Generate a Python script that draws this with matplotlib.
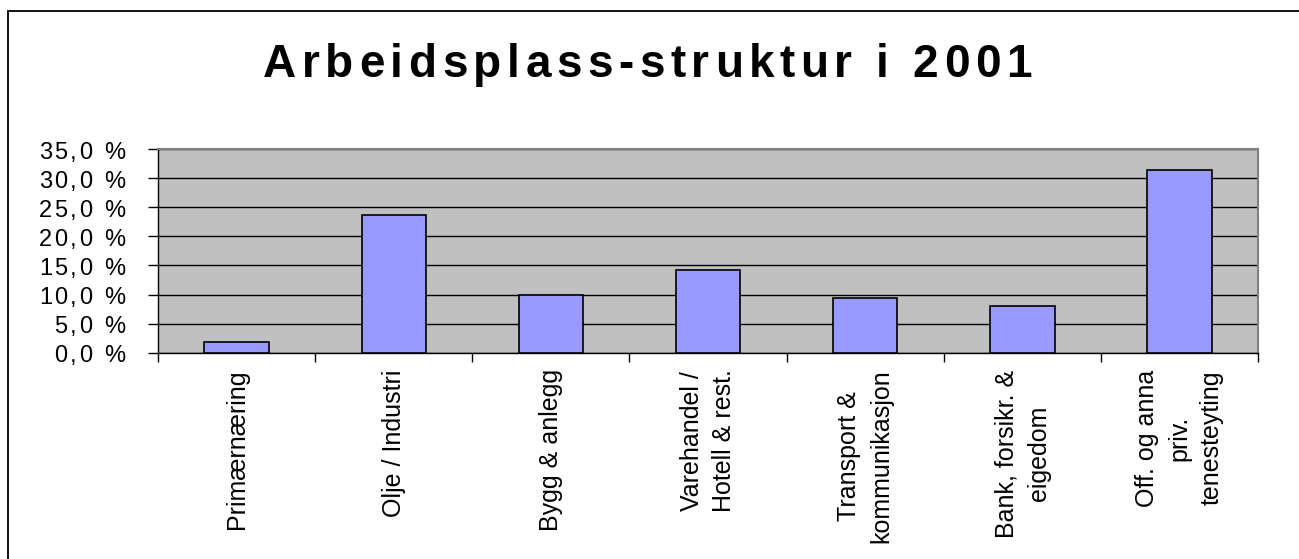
import matplotlib
matplotlib.use('Agg')
import matplotlib.pyplot as plt
from matplotlib.font_manager import FontProperties
from matplotlib.patches import Rectangle

# Data
categories = ['Primærnæring', 'Olje / Industri', 'Bygg & anlegg',
              'Varehandel /\nHotell & rest.', 'Transport &\nkommunikasjon',
              'Bank, forsikr. &\neigedom', 'Off. og anna\npriv.\ntenesteyting']
shares = [1.8, 23.7, 9.9, 14.2, 9.4, 8.0, 31.4]
y_ticks = [0, 5, 10, 15, 20, 25, 30, 35]
y_tick_labels = ['0,0 %', '5,0 %', '10,0 %', '15,0 %', '20,0 %', '25,0 %', '30,0 %', '35,0 %']
title = 'Arbeidsplass-struktur i 2001'

W, H = 1299, 559
fig = plt.figure(figsize=(W / 100, H / 100), dpi=100)
fig.patch.set_facecolor('white')

# outer frame (only left/top visible in the original)
fig.patches.append(Rectangle((8 / W, -0.1), 1.2, (H - 11) / H + 0.1, transform=fig.transFigure,
                             fill=False, edgecolor='black', linewidth=1.3, clip_on=False))

ax = fig.add_axes([158 / W, (H - 352.7) / H, 1100 / W, 203.7 / H])
ax.set_facecolor('#C0C0C0')

x = list(range(len(categories)))
ax.bar(x, shares, width=0.41, color='#9999FF', edgecolor='black', linewidth=1.2, zorder=3)

ax.set_xlim(-0.5, len(categories) - 0.5)
ax.set_ylim(0, 35)
ax.set_yticks(y_ticks)
ax.set_yticklabels([''] * len(y_ticks))
ax.yaxis.grid(True, color='black', linewidth=1.0, zorder=1)
ax.set_axisbelow(True)
ax.tick_params(axis='y', direction='out', length=7.5, width=1, color='black')

# category boundaries get the tick marks, the centres get the labels
ax.set_xticks([i - 0.5 for i in range(len(categories) + 1)])
ax.set_xticklabels([''] * (len(categories) + 1))
ax.tick_params(axis='x', which='major', direction='out', length=6.5, width=1, color='black')
ax.set_xticks(x, minor=True)
ax.set_xticklabels(categories, minor=True, rotation=90, fontsize=18, family='Liberation Sans',
                   multialignment='center', linespacing=1.45)
ax.tick_params(axis='x', which='minor', length=0, pad=12)

for s in ['top', 'right']:
    ax.spines[s].set_color('#808080')
    ax.spines[s].set_linewidth(1.5)
for s in ['left', 'bottom']:
    ax.spines[s].set_color('black')
    ax.spines[s].set_linewidth(1.0)

fig.canvas.draw()
r = fig.canvas.get_renderer()


def adv(c, fp):
    # advance width of one character in pixels
    w2 = r.get_text_width_height_descent('HH', fp, ismath=False)[0]
    w3 = r.get_text_width_height_descent('H' + c + 'H', fp, ismath=False)[0]
    return w3 - w2


def spaced_text(xp, yp, s, fp, sp=None, total=None, ha='left'):
    ws = [adv(c, fp) for c in s]
    if total is not None:
        sp = (total - sum(ws)) / (len(s) - 1)
    tw = sum(ws) + sp * (len(s) - 1)
    x0 = xp - tw / 2 if ha == 'center' else (xp - tw if ha == 'right' else xp)
    for c, w in zip(s, ws):
        if c != ' ':
            fig.text(x0 / W, yp / H, c, fontproperties=fp, ha='left', va='baseline', color='black')
        x0 += w + sp
    return sp


# title, letter-spaced
fp_title = FontProperties(family='Liberation Sans', weight='bold', size=33)
spaced_text(647.5, H - 77, title, fp_title, total=769, ha='center')

# y tick labels, letter-spaced
fp_y = FontProperties(family='Liberation Sans', size=17)
for v, lab in zip(y_ticks, y_tick_labels):
    yp = ax.transData.transform((0, v))[1]
    spaced_text(125, yp - 9.5, lab, fp_y, sp=2.5, ha='right')

fig.savefig('out.png', dpi=100)
